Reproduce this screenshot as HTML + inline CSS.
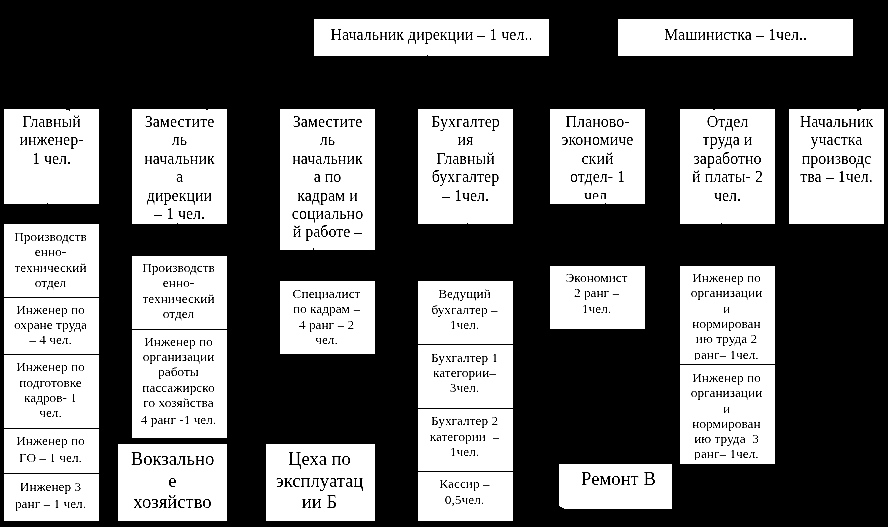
<!DOCTYPE html>
<html><head><meta charset="utf-8"><style>
html,body{margin:0;padding:0}
body{width:888px;height:527px;background:#000;position:relative;overflow:hidden;font-family:"Liberation Serif",serif;color:#000}
#w{position:absolute;left:0;top:0;width:888px;height:527px;background:#000;filter:grayscale(1) contrast(3)}
.r{position:absolute}
.t{position:absolute;line-height:20px;height:20px;text-align:center;white-space:pre}
</style></head><body><div id="w">
<div class="r" style="left:314px;top:19px;width:235px;height:37px;background:#fff;"></div>
<div class="t" style="left:314px;width:235px;top:25px;font-size:16px">Начальник дирекции – 1 чел..</div>
<div class="r" style="left:618px;top:19px;width:235px;height:37px;background:#fff;"></div>
<div class="t" style="left:618px;width:235px;top:25px;font-size:16px">Машинистка – 1чел..</div>
<div class="r" style="left:4px;top:109px;width:95px;height:95px;background:#fff;"></div>
<div class="t" style="left:4px;width:95px;top:112.0px;font-size:16px">Главный</div>
<div class="t" style="left:4px;width:95px;top:130.4px;font-size:16px">инженер-</div>
<div class="t" style="left:4px;width:95px;top:148.8px;font-size:16px">1 чел.</div>
<div class="r" style="left:132px;top:109px;width:95px;height:115px;background:#fff;"></div>
<div class="t" style="left:132px;width:95px;top:112.0px;font-size:16px">Заместите</div>
<div class="t" style="left:132px;width:95px;top:130.4px;font-size:16px">ль</div>
<div class="t" style="left:132px;width:95px;top:148.8px;font-size:16px">начальник</div>
<div class="t" style="left:132px;width:95px;top:167.2px;font-size:16px">а</div>
<div class="t" style="left:132px;width:95px;top:185.6px;font-size:16px">дирекции</div>
<div class="t" style="left:132px;width:95px;top:204.0px;font-size:16px">– 1 чел.</div>
<div class="r" style="left:280px;top:109px;width:95px;height:141px;background:#fff;"></div>
<div class="t" style="left:280px;width:95px;top:112.0px;font-size:16px">Заместите</div>
<div class="t" style="left:280px;width:95px;top:130.4px;font-size:16px">ль</div>
<div class="t" style="left:280px;width:95px;top:148.8px;font-size:16px">начальник</div>
<div class="t" style="left:280px;width:95px;top:167.2px;font-size:16px">а по</div>
<div class="t" style="left:280px;width:95px;top:185.6px;font-size:16px">кадрам и</div>
<div class="t" style="left:280px;width:95px;top:204.0px;font-size:16px">социально</div>
<div class="t" style="left:280px;width:95px;top:222.4px;font-size:16px">й работе –</div>
<div class="r" style="left:418px;top:109px;width:95px;height:115px;background:#fff;"></div>
<div class="t" style="left:418px;width:95px;top:112.0px;font-size:16px">Бухгалтер</div>
<div class="t" style="left:418px;width:95px;top:130.4px;font-size:16px">ия</div>
<div class="t" style="left:418px;width:95px;top:148.8px;font-size:16px">Главный</div>
<div class="t" style="left:418px;width:95px;top:167.2px;font-size:16px">бухгалтер</div>
<div class="t" style="left:418px;width:95px;top:185.6px;font-size:16px">– 1чел.</div>
<div class="r" style="left:550px;top:109px;width:95px;height:95px;background:#fff;"></div>
<div class="r" style="left:550px;top:109px;width:95px;height:90px;overflow:hidden"><div class="t" style="left:0px;width:95px;top:3.0px;font-size:16px">Планово-</div><div class="t" style="left:0px;width:95px;top:21.400000000000006px;font-size:16px">экономиче</div><div class="t" style="left:0px;width:95px;top:39.80000000000001px;font-size:16px">ский</div><div class="t" style="left:0px;width:95px;top:58.19999999999999px;font-size:16px">отдел- 1</div><div class="t" style="left:0px;width:95px;top:77.0px;font-size:16px">чел.</div></div>
<div class="r" style="left:680px;top:109px;width:95px;height:115px;background:#fff;"></div>
<div class="t" style="left:680px;width:95px;top:112.0px;font-size:16px">Отдел</div>
<div class="t" style="left:680px;width:95px;top:130.4px;font-size:16px">труда и</div>
<div class="t" style="left:680px;width:95px;top:148.8px;font-size:16px">заработно</div>
<div class="t" style="left:680px;width:95px;top:167.2px;font-size:16px">й платы- 2</div>
<div class="t" style="left:680px;width:95px;top:185.6px;font-size:16px">чел.</div>
<div class="r" style="left:789px;top:109px;width:95px;height:115px;background:#fff;"></div>
<div class="t" style="left:789px;width:95px;top:112.0px;font-size:16px">Начальник</div>
<div class="t" style="left:789px;width:95px;top:130.4px;font-size:16px">участка</div>
<div class="t" style="left:789px;width:95px;top:148.8px;font-size:16px">производс</div>
<div class="t" style="left:789px;width:95px;top:167.2px;font-size:16px">тва – 1чел.</div>
<div class="r" style="left:4px;top:224px;width:95px;height:297px;background:#fff;"></div>
<div class="r" style="left:4px;top:297px;width:95px;height:1px;background:#000;"></div>
<div class="r" style="left:4px;top:354px;width:95px;height:1px;background:#000;"></div>
<div class="r" style="left:4px;top:428px;width:95px;height:1px;background:#000;"></div>
<div class="r" style="left:4px;top:473px;width:95px;height:1px;background:#000;"></div>
<div class="t" style="left:3px;width:95px;top:227px;font-size:13.33px">Производств</div>
<div class="t" style="left:3px;width:95px;top:242.3px;font-size:13.33px">енно-</div>
<div class="t" style="left:3px;width:95px;top:257.6px;font-size:13.33px">технический</div>
<div class="t" style="left:3px;width:95px;top:273px;font-size:13.33px">отдел</div>
<div class="t" style="left:3px;width:95px;top:300px;font-size:13.33px">Инженер по</div>
<div class="t" style="left:3px;width:95px;top:315px;font-size:13.33px">охране труда</div>
<div class="t" style="left:3px;width:95px;top:330px;font-size:13.33px">– 4 чел.</div>
<div class="t" style="left:3px;width:95px;top:357.4px;font-size:13.33px">Инженер по</div>
<div class="t" style="left:3px;width:95px;top:373px;font-size:13.33px">подготовке</div>
<div class="t" style="left:3px;width:95px;top:388px;font-size:13.33px">кадров- 1</div>
<div class="t" style="left:3px;width:95px;top:403px;font-size:13.33px">чел.</div>
<div class="t" style="left:3px;width:95px;top:431px;font-size:13.33px">Инженер по</div>
<div class="t" style="left:3px;width:95px;top:448px;font-size:13.33px">ГО – 1 чел.</div>
<div class="t" style="left:3px;width:95px;top:477px;font-size:13.33px">Инженер 3</div>
<div class="t" style="left:3px;width:95px;top:493.5px;font-size:13.33px">ранг – 1 чел.</div>
<div class="r" style="left:132px;top:256px;width:95px;height:182px;background:#fff;"></div>
<div class="r" style="left:132px;top:329px;width:95px;height:1px;background:#000;"></div>
<div class="t" style="left:131px;width:95px;top:258px;font-size:13.33px">Производств</div>
<div class="t" style="left:131px;width:95px;top:273.3px;font-size:13.33px">енно-</div>
<div class="t" style="left:131px;width:95px;top:288.6px;font-size:13.33px">технический</div>
<div class="t" style="left:131px;width:95px;top:304px;font-size:13.33px">отдел</div>
<div class="t" style="left:131px;width:95px;top:332px;font-size:13.33px">Инженер по</div>
<div class="t" style="left:131px;width:95px;top:347px;font-size:13.33px">организации</div>
<div class="t" style="left:131px;width:95px;top:362px;font-size:13.33px">работы</div>
<div class="t" style="left:131px;width:95px;top:377.5px;font-size:13.33px">пассажирско</div>
<div class="t" style="left:131px;width:95px;top:393px;font-size:13.33px">го хозяйства</div>
<div class="t" style="left:131px;width:95px;top:410px;font-size:13.33px">4 ранг -1 чел.</div>
<div class="r" style="left:118px;top:444px;width:109px;height:77px;background:#fff;"></div>
<div class="t" style="left:118px;width:109px;top:449px;font-size:18.67px">Вокзально</div>
<div class="t" style="left:118px;width:109px;top:471px;font-size:18.67px">е</div>
<div class="t" style="left:118px;width:109px;top:492px;font-size:18.67px">хозяйство</div>
<div class="r" style="left:280px;top:281px;width:95px;height:73px;background:#fff;"></div>
<div class="t" style="left:279px;width:95px;top:284px;font-size:13.33px">Специалист</div>
<div class="t" style="left:279px;width:95px;top:299.3px;font-size:13.33px">по кадрам –</div>
<div class="t" style="left:279px;width:95px;top:314.6px;font-size:13.33px">4 ранг – 2</div>
<div class="t" style="left:279px;width:95px;top:330px;font-size:13.33px">чел.</div>
<div class="r" style="left:266px;top:444px;width:109px;height:77px;background:#fff;"></div>
<div class="t" style="left:265px;width:109px;top:449px;font-size:18.67px">Цеха по</div>
<div class="t" style="left:265px;width:109px;top:470.5px;font-size:18.67px">эксплуатац</div>
<div class="t" style="left:265px;width:109px;top:492px;font-size:18.67px">ии Б</div>
<div class="r" style="left:418px;top:281px;width:95px;height:240px;background:#fff;"></div>
<div class="r" style="left:418px;top:344px;width:95px;height:1px;background:#000;"></div>
<div class="r" style="left:418px;top:408px;width:95px;height:1px;background:#000;"></div>
<div class="r" style="left:418px;top:471px;width:95px;height:1px;background:#000;"></div>
<div class="t" style="left:417px;width:95px;top:284.4px;font-size:13.33px">Ведущий</div>
<div class="t" style="left:417px;width:95px;top:300px;font-size:13.33px">бухгалтер –</div>
<div class="t" style="left:417px;width:95px;top:314.7px;font-size:13.33px">1чел.</div>
<div class="t" style="left:417px;width:95px;top:347.8px;font-size:13.33px">Бухгалтер 1</div>
<div class="t" style="left:417px;width:95px;top:362.5px;font-size:13.33px">категории–</div>
<div class="t" style="left:417px;width:95px;top:377.5px;font-size:13.33px">3чел.</div>
<div class="t" style="left:417px;width:95px;top:411px;font-size:13.33px">Бухгалтер 2</div>
<div class="t" style="left:417px;width:95px;top:426.5px;font-size:13.33px">категории &nbsp;–</div>
<div class="t" style="left:417px;width:95px;top:441.6px;font-size:13.33px">1чел.</div>
<div class="t" style="left:417px;width:95px;top:474.4px;font-size:13.33px">Кассир –</div>
<div class="t" style="left:417px;width:95px;top:490px;font-size:13.33px">0,5чел.</div>
<div class="r" style="left:550px;top:266px;width:95px;height:63px;background:#fff;"></div>
<div class="t" style="left:549px;width:95px;top:267.6px;font-size:13.33px">Экономист</div>
<div class="t" style="left:549px;width:95px;top:283.2px;font-size:13.33px">2 ранг –</div>
<div class="t" style="left:549px;width:95px;top:298.7px;font-size:13.33px">1чел.</div>
<div class="r" style="left:559px;top:464px;width:113px;height:45px;background:#fff;"></div>
<div class="t" style="left:562px;width:113px;top:469px;font-size:18.67px">Ремонт В</div>
<div class="r" style="left:680px;top:266px;width:95px;height:198px;background:#fff;"></div>
<div class="r" style="left:680px;top:364px;width:95px;height:1px;background:#000;"></div>
<div class="r" style="left:680px;top:266px;width:95px;height:94px;overflow:hidden"><div class="t" style="left:-1px;width:95px;top:2.0px;font-size:13.33px">Инженер по</div><div class="t" style="left:-1px;width:95px;top:17.399999999999977px;font-size:13.33px">организации</div><div class="t" style="left:-1px;width:95px;top:32.69999999999999px;font-size:13.33px">и</div><div class="t" style="left:-1px;width:95px;top:48.0px;font-size:13.33px">нормирован</div><div class="t" style="left:-1px;width:95px;top:63.39999999999998px;font-size:13.33px">ию труда 2</div><div class="t" style="left:-1px;width:95px;top:78.69999999999999px;font-size:13.33px">ранг– 1чел.</div></div>
<div class="r" style="left:680px;top:365px;width:95px;height:95px;overflow:hidden"><div class="t" style="left:-1px;width:95px;top:3.0px;font-size:13.33px">Инженер по</div><div class="t" style="left:-1px;width:95px;top:18.30000000000001px;font-size:13.33px">организации</div><div class="t" style="left:-1px;width:95px;top:33.60000000000002px;font-size:13.33px">и</div><div class="t" style="left:-1px;width:95px;top:49.0px;font-size:13.33px">нормирован</div><div class="t" style="left:-1px;width:95px;top:64.0px;font-size:13.33px">ию труда &nbsp;3</div><div class="t" style="left:-1px;width:95px;top:79.0px;font-size:13.33px">ранг– 1чел.</div></div>
<div class="r" style="left:427px;top:55px;width:1px;height:1px;background:#000;"></div>
<div class="r" style="left:66px;top:109px;width:4px;height:1px;background:#000;"></div>
<div class="r" style="left:69px;top:110px;width:1px;height:1px;background:#000;"></div>
<div class="r" style="left:47px;top:203px;width:1px;height:1px;background:#000;"></div>
<div class="r" style="left:206px;top:109px;width:2px;height:1px;background:#000;"></div>
<div class="r" style="left:177px;top:223px;width:1px;height:1px;background:#000;"></div>
<div class="r" style="left:313px;top:248px;width:1px;height:2px;background:#000;"></div>
<div class="r" style="left:467px;top:223px;width:1px;height:1px;background:#000;"></div>
<div class="r" style="left:605px;top:203px;width:1px;height:1px;background:#000;"></div>
<div class="r" style="left:713px;top:109px;width:2px;height:1px;background:#000;"></div>
<div class="r" style="left:721px;top:223px;width:1px;height:1px;background:#000;"></div>
<div class="r" style="left:857px;top:109px;width:4px;height:1px;background:#000;"></div>
<div class="r" style="left:857px;top:110px;width:2px;height:1px;background:#000;"></div>
<div class="r" style="left:559px;top:506px;width:1px;height:3px;background:#000;"></div>
<div class="r" style="left:560px;top:507px;width:2px;height:2px;background:#000;"></div>
<div class="r" style="left:562px;top:508px;width:2px;height:1px;background:#000;"></div>
</div></body></html>
